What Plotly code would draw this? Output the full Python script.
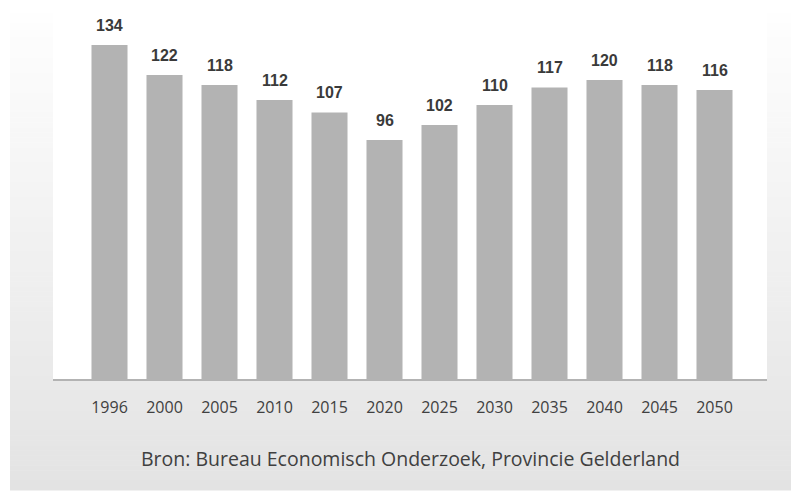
import plotly.graph_objects as go

years = ["1996", "2000", "2005", "2010", "2015", "2020", "2025", "2030", "2035", "2040", "2045", "2050"]
values = [134, 122, 118, 112, 107, 96, 102, 110, 117, 120, 118, 116]
source_text = "Bron: Bureau Economisch Onderzoek, Provincie Gelderland"

W, H = 791, 491
ML, MR, MT, MB = 82, 49, 0, 111
PW = W - ML - MR
PH = H - MT - MB


def px(x):
    return (x - ML) / PW


def py(y):
    return (H - MB - y) / PH


shapes = []
# gradient background box (white at top to light gray at bottom)
y0, y1 = 13, 490
nb = 96
top_c, bot_c = 254, 227
for i in range(nb):
    ya = y0 + (y1 - y0) * i / nb
    yb = y0 + (y1 - y0) * (i + 1) / nb
    t = (i + 0.5) / nb
    c = round(top_c + (bot_c - top_c) * t)
    shapes.append(dict(type="rect", xref="paper", yref="paper",
                       x0=px(10), x1=px(791), y0=py(yb + 0.5), y1=py(ya),
                       fillcolor=f"rgb({c},{c},{c})", line=dict(width=0), layer="below"))
# white plot area
shapes.append(dict(type="rect", xref="paper", yref="paper",
                   x0=px(53), x1=px(767), y0=py(379), y1=py(0),
                   fillcolor="white", line=dict(width=0), layer="below"))
# axis line
shapes.append(dict(type="line", xref="paper", yref="paper",
                   x0=px(53), x1=px(767), y0=py(380), y1=py(380),
                   line=dict(color="#b3b3b3", width=2), layer="above"))

fig = go.Figure()
fig.add_trace(go.Bar(x=years, y=values, marker=dict(color="#b3b3b3", line=dict(width=0)),
                     hoverinfo="x+y"))

annotations = []
for i, v in enumerate(values):
    annotations.append(dict(x=i, y=v, xref="x", yref="y", text=str(v), showarrow=False,
                            xanchor="center", yanchor="middle", yshift=20,
                            font=dict(family="Liberation Sans, Arial", size=16, color="#3a3a3a",
                                      weight="bold")))
annotations.append(dict(x=px(410), y=py(458.5), xref="paper", yref="paper", text=source_text,
                        showarrow=False, xanchor="center", yanchor="middle",
                        font=dict(family="Open Sans", size=19.5, color="#404040")))

fig.update_layout(
    width=W, height=H,
    margin=dict(l=ML, r=MR, t=MT, b=MB, pad=0, autoexpand=False),
    paper_bgcolor="white", plot_bgcolor="rgba(0,0,0,0)",
    bargap=0.345,
    showlegend=False,
    shapes=shapes,
    annotations=annotations,
    xaxis=dict(type="category", range=[-0.5, len(years) - 0.5], autorange=False,
               showline=False, showgrid=False, zeroline=False, ticks="",
               ticklabelstandoff=16, automargin=False,
               tickfont=dict(family="Open Sans", size=16, color="#404040")),
    yaxis=dict(range=[0, PH / 2.5], autorange=False, visible=False, showgrid=False,
               zeroline=False, automargin=False),
)

fig.write_html("out.html", config={"displayModeBar": False},
               post_script="document.body.style.margin='0px';")
